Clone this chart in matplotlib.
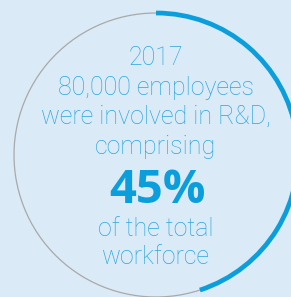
import matplotlib
matplotlib.use("Agg")
import matplotlib.pyplot as plt
from matplotlib.patches import Arc

share_pct = 45
lines_top = ["2017", "80,000 employees", "were involved in R&D,", "comprising"]
lines_bottom = ["of the total", "workforce"]

W, H = 291, 297
fig = plt.figure(figsize=(W / 100, H / 100), dpi=100)
bg = "#dbeaf7"
fig.patch.set_facecolor(bg)
ax = fig.add_axes([0, 0, 1, 1])
ax.set_facecolor(bg)
ax.set_xlim(0, W)
ax.set_ylim(H, 0)
ax.set_aspect("equal")
ax.axis("off")

cx, cy, r = 156, 155, 142
blue = "#0a9fdc"
txt = "#2aa7e0"

end = -90 + 360 * share_pct / 100
ax.add_patch(Arc((cx, cy), 2 * r, 2 * r, theta1=end, theta2=270,
                 color="#a9a9a9", lw=0.9))
ax.add_patch(Arc((cx, cy), 2 * r, 2 * r, theta1=-90, theta2=end,
                 color=blue, lw=3.4, capstyle="butt"))

font = "Roboto"
for s, y in zip(lines_top, [65, 95, 124, 154]):
    ax.text(cx, y, s, ha="center", va="baseline", fontsize=18, color=txt,
            family=font, fontweight="light")
ax.text(cx + 1, 203, f"{share_pct}%", ha="center", va="baseline", fontsize=34, color=blue,
        family="Open Sans", fontweight="bold")
for s, y in zip(lines_bottom, [236, 264]):
    ax.text(cx, y, s, ha="center", va="baseline", fontsize=18, color=txt,
            family=font, fontweight="light")

fig.savefig("out.png", dpi=100, facecolor=bg)
